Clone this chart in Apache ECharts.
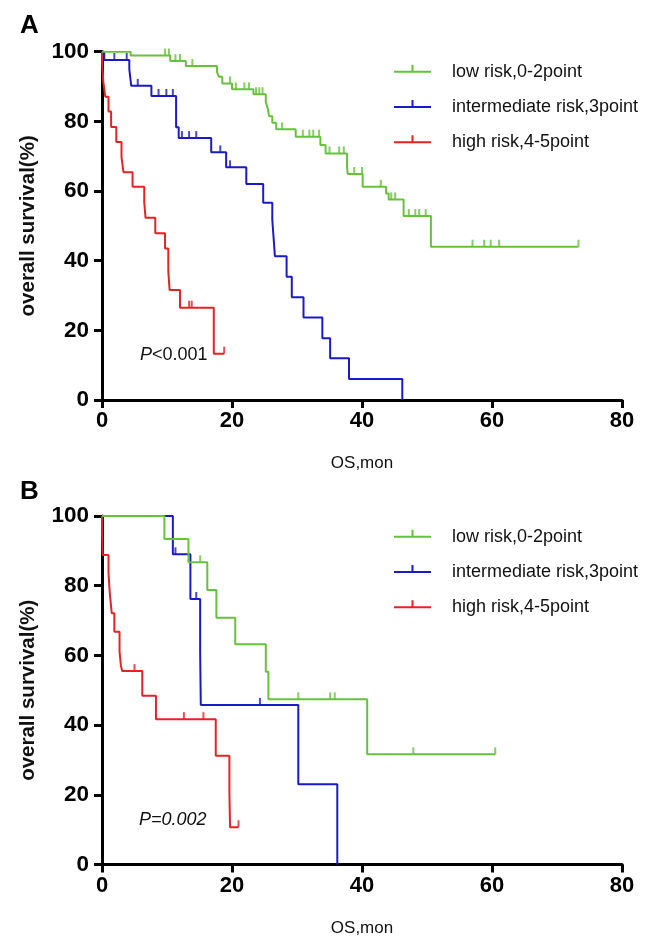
<!DOCTYPE html>
<html>
<head>
<meta charset="utf-8">
<script src="https://cdn.jsdelivr.net/npm/echarts@6/dist/echarts.min.js"></script>
<style>
html, body { margin: 0; padding: 0; background: #fff; }
#main { width: 646px; height: 941px; }
</style>
</head>
<body>
<div id="main"></div>
<script>
const groupNames = ["low risk,0-2point", "intermediate risk,3point", "high risk,4-5point"];
const groupColors = ["#66c23a", "#1a1ac8", "#e62222"];
const xTicks = [0, 20, 40, 60, 80];
const yTicks = [0, 20, 40, 60, 80, 100];

// panel A — events [month, survival %], censor times, end of follow-up
const lowA = [[0,100],[4.4,98.9],[10.5,97.3],[12.9,95.9],[17.7,94.1],[18.0,92.8],[18.5,90.9],[20.0,89.2],[23.3,87.8],[25.2,85.6],[25.5,83.7],[25.7,81.5],[26.2,79.6],[26.8,77.7],[29.8,75.6],[33.6,73.2],[34.4,70.8],[37.7,67.0],[37.8,64.9],[40.1,61.2],[43.7,59.3],[44.1,57.6],[46.4,52.8],[50.6,44.0]];
const lowACens = [9.7,10.3,11.3,12.0,13.9,19.7,20.6,21.9,22.6,23.7,24.2,24.7,27.7,30.9,31.9,32.5,33.4,35.0,36.5,37.2,38.8,40.0,42.9,44.5,45.1,47.2,48.2,48.8,49.8,57.0,58.8,59.8,61.1,73.3];
const lowAEnd = 73.3;

const midA = [[0,100],[0.35,97.6],[4.2,95.0],[4.5,90.2],[7.6,87.3],[11.4,78.3],[11.8,75.2],[16.8,71.1],[19.1,66.8],[22.2,62.0],[24.8,56.6],[26.2,51.7],[26.4,46.5],[26.6,41.3],[28.4,35.4],[29.2,29.5],[31.0,23.7],[33.9,17.7],[35.1,12.0],[38.0,6.0],[46.2,0]];
const midACens = [1.9,3.8,5.5,8.7,9.9,10.9,12.3,13.4,14.5,18.2,19.7];
const midAEnd = 46.2;

const highA = [[0,100],[0.05,95.7],[0.2,91.4],[0.5,87.1],[1.0,82.8],[1.4,78.4],[2.2,74.1],[3.0,69.8],[3.3,65.4],[4.7,61.2],[6.5,56.7],[6.7,52.3],[8.2,47.9],[9.7,43.5],[10.2,37.0],[10.4,31.6],[12.0,26.5],[17.2,13.3]];
const highACens = [13.4,13.8,18.8];
const highAEnd = 18.8;

// panel B
const lowB = [[0,100],[9.6,93.4],[13.3,86.7],[16.2,78.8],[17.6,70.8],[20.5,63.2],[25.2,55.3],[25.6,47.4],[40.8,31.6]];
const lowBCens = [15.1,30.2,35.1,35.8,47.9,60.5];
const lowBEnd = 60.5;

const midB = [[0,100],[10.9,89.0],[13.6,76.2],[15.1,61.1],[15.2,45.8],[30.2,23.0],[36.2,0]];
const midBCens = [11.3,14.5,24.3];
const midBEnd = 36.2;

const highB = [[0,100],[0.02,94.5],[0.1,88.8],[1.0,83.6],[1.2,77.8],[1.5,72.1],[1.9,66.8],[2.7,61.1],[2.9,57.2],[3.1,55.5],[6.2,48.4],[8.3,41.7],[17.5,31.2],[19.6,20.9],[19.7,10.7]];
const highBCens = [5.0,12.6,15.6,21.0];
const highBEnd = 21.0;

const pTextA = "P<0.001";
const pTextB = "P=0.002";

const FONT = "Liberation Sans, Arial, sans-serif";
const legendIcon = "path://M0,6h37v2h-37zM17.5,0h2v6h-2zM52.9,13.9h0.1v0.1h-0.1z";

function stepLine(events, end) {
  const last = events[events.length - 1];
  return end > last[0] ? events.concat([[end, last[1]]]) : events.slice();
}
function levelAt(events, t) {
  let s = 100;
  events.forEach(function (e) { if (e[0] <= t) s = e[1]; });
  return s;
}

const panels = [
  [[lowA, lowACens, lowAEnd], [midA, midACens, midAEnd], [highA, highACens, highAEnd]],
  [[lowB, lowBCens, lowBEnd], [midB, midBCens, midBEnd], [highB, highBCens, highBEnd]]
];

const series = [];
panels.forEach(function (curves, p) {
  curves.forEach(function (c, k) {
    series.push({
      name: groupNames[k],
      type: "line",
      step: "end",
      xAxisIndex: p,
      yAxisIndex: p,
      showSymbol: false,
      symbol: "none",
      silent: true,
      data: stepLine(c[0], c[2]),
      color: groupColors[k],
      lineStyle: { width: 2, color: groupColors[k] },
      z: 3 - k
    });
    series.push({
      name: groupNames[k] + " censored",
      type: "scatter",
      xAxisIndex: p,
      yAxisIndex: p,
      silent: true,
      symbol: "rect",
      symbolSize: [2, 7],
      symbolOffset: [0, -3.5],
      itemStyle: { color: groupColors[k] },
      data: c[1].map(function (t) { return [t, levelAt(c[0], t)]; }),
      z: 3 - k
    });
  });
});

function xAxisOf(i) {
  return {
    gridIndex: i, type: "value", min: 0, max: 80, interval: 20,
    name: "OS,mon", nameLocation: "middle", nameGap: 55,
    nameTextStyle: { fontFamily: FONT, fontSize: 17, color: "#111" },
    axisLine: { lineStyle: { color: "#000", width: 3 } },
    axisTick: { length: 8, lineStyle: { color: "#000", width: 3 } },
    axisLabel: { margin: 10, fontFamily: FONT, fontSize: 22, fontWeight: "bold", color: "#000",
      formatter: function (v) { return xTicks.indexOf(v) >= 0 ? String(v) : ""; } },
    splitLine: { show: false }
  };
}
function yAxisOf(i) {
  return {
    gridIndex: i, type: "value", min: 0, max: 100, interval: 20,
    name: "overall survival(%)", nameLocation: "middle", nameGap: 63,
    nameTextStyle: { fontFamily: FONT, fontSize: 20.5, fontWeight: "bold", color: "#111" },
    axisLine: { lineStyle: { color: "#000", width: 3 } },
    axisTick: { length: 8, lineStyle: { color: "#000", width: 3 } },
    axisLabel: { margin: 13, fontFamily: FONT, fontSize: 22.5, fontWeight: "bold", color: "#000",
      formatter: function (v) { return yTicks.indexOf(v) >= 0 ? String(v) : ""; } },
    splitLine: { show: false }
  };
}
function legendOf(top) {
  return {
    left: 389, top: top, orient: "vertical",
    data: groupNames, icon: legendIcon,
    itemWidth: 53, itemHeight: 14, itemGap: 15.3,
    selectedMode: false,
    itemStyle: { borderWidth: 0 },
    textStyle: { fontFamily: FONT, fontSize: 18, lineHeight: 20, color: "#111" }
  };
}

const chart = echarts.init(document.getElementById("main"), null, { renderer: "canvas" });
chart.setOption({
  animation: false,
  backgroundColor: "#fff",
  grid: [
    { left: 102, top: 51.7, width: 520, height: 348.3 },
    { left: 102, top: 516, width: 520, height: 348.5 }
  ],
  xAxis: [xAxisOf(0), xAxisOf(1)],
  yAxis: [yAxisOf(0), yAxisOf(1)],
  legend: [legendOf(56.7), legendOf(521.7)],
  graphic: [
    { type: "text", left: 20, top: 13, style: { text: "A", font: "bold 26px " + FONT, fill: "#000" } },
    { type: "text", left: 20, top: 479, style: { text: "B", font: "bold 26px " + FONT, fill: "#000" } },
    { type: "text", x: 140, y: 355, style: {
        text: "{i|" + pTextA.charAt(0) + "}" + pTextA.slice(1),
        font: "18px " + FONT, fill: "#111", verticalAlign: "middle",
        rich: { i: { fontStyle: "italic", fontSize: 18, fontFamily: FONT, fill: "#111" } } } },
    { type: "text", x: 139, y: 820, style: {
        text: pTextB, font: "italic 18px " + FONT, fill: "#111", verticalAlign: "middle" } }
  ],
  series: series
});
</script>
</body>
</html>
